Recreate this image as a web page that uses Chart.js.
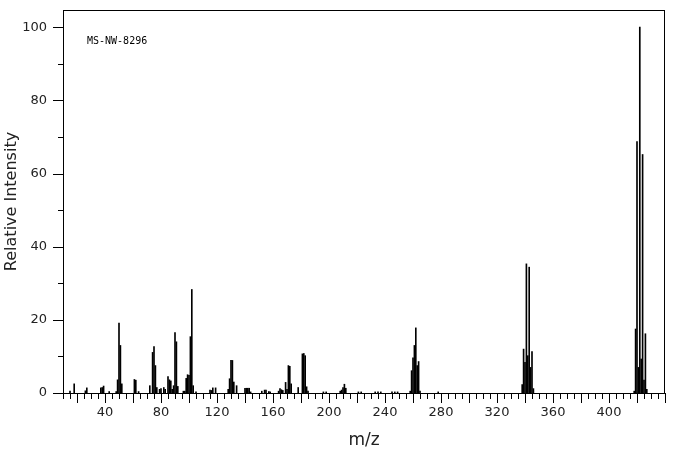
<!DOCTYPE html>
<html>
<head>
<meta charset="utf-8">
<script src="https://cdn.jsdelivr.net/npm/chart.js@4/dist/chart.umd.min.js"></script>
<style>
  html, body { margin: 0; padding: 0; background: #fff; }
  #wrap { width: 676px; height: 455px; }
</style>
</head>
<body>
<div id="wrap"><canvas id="msChart" width="676" height="455"></canvas></div>
<script>
// m/z values and relative intensities
const mzValues = [
    15, 18, 26, 27, 37, 38, 39, 43, 48, 49, 50, 51, 52, 61, 62, 64,
    72, 74, 75, 76, 77, 79, 80, 82, 83, 85, 86, 87, 88, 89, 90, 91, 92,
    96, 97, 98, 99, 100, 101, 102, 103, 105, 115, 116, 117, 119,
    128, 129, 130, 131, 132, 134, 140, 141, 142, 143, 144,
    152, 154, 155, 157, 158, 164, 165, 166, 167, 169, 170, 171, 172, 173,
    178, 181, 182, 183, 184, 185, 196, 198, 208, 209, 210, 211, 212,
    221, 223, 233, 235, 237, 245, 247, 249,
    258, 259, 260, 261, 262, 263, 264, 265, 278,
    338, 339, 340, 341, 342, 343, 344, 345, 346,
    418, 419, 420, 421, 422, 423, 424, 425, 426, 427
];
const intensities = [
    0.5, 2.5, 0.6, 1.4, 1.4, 1.5, 1.9, 0.4, 0.4, 3.6, 19.1, 13.0, 2.5, 3.7, 3.5, 0.4,
    2.0, 11.1, 12.7, 7.5, 1.5, 1.0, 1.2, 1.5, 1.0, 4.5, 3.6, 3.3, 1.0, 2.0, 16.5, 14.0, 1.8,
    0.5, 0.5, 4.0, 5.0, 4.8, 15.4, 28.3, 2.0, 0.3, 0.8, 0.7, 1.4, 1.4,
    1.0, 3.9, 8.9, 8.9, 3.0, 2.0, 1.3, 1.3, 1.3, 1.3, 0.3,
    0.5, 0.8, 0.8, 0.4, 0.3, 0.5, 1.2, 0.9, 0.7, 2.9, 1.0, 7.5, 7.3, 2.5,
    1.5, 10.7, 10.8, 10.2, 1.7, 0.5, 0.3, 0.3, 0.5, 0.8, 1.5, 2.4, 1.3,
    0.3, 0.3, 0.3, 0.3, 0.3, 0.3, 0.3, 0.3,
    0.5, 6.1, 9.6, 13.0, 17.8, 7.5, 8.6, 0.5, 0.3,
    2.3, 12.0, 8.4, 35.3, 10.2, 34.4, 7.0, 11.3, 1.2,
    0.5, 17.5, 68.7, 7.0, 100, 9.3, 65.2, 3.5, 16.2, 1.0
];
const xTickLabels = [40, 80, 120, 160, 200, 240, 280, 320, 360, 400];
const yTickLabels = [0, 20, 40, 60, 80, 100];
const sampleId = "MS-NW-8296";

const fontFamily = "'DejaVu Sans', sans-serif";

// frame, tick marks and sample id drawn on top of the plot
const frameAndTicks = {
    id: "frameAndTicks",
    afterDraw(chart) {
        const ctx = chart.ctx;
        const area = chart.chartArea;
        const x = chart.scales.x;
        const y = chart.scales.y;
        ctx.save();
        ctx.strokeStyle = "#000";
        ctx.lineWidth = 1;
        ctx.strokeRect(Math.round(area.left) + 0.5, Math.round(area.top) + 0.5,
            Math.round(area.right - area.left) - 1, Math.round(area.bottom - area.top));

        ctx.beginPath();
        for (let v = 10; v <= 440; v += 5) {
            const px = Math.round(x.getPixelForValue(v)) + 0.5;
            const len = v % 20 === 0 ? 10 : 6;
            ctx.moveTo(px, area.bottom);
            ctx.lineTo(px, area.bottom + len);
        }
        for (let v = 0; v <= 100; v += 10) {
            const py = Math.round(y.getPixelForValue(v)) + 0.5;
            const len = v % 20 === 0 ? 10 : 5;
            ctx.moveTo(area.left, py);
            ctx.lineTo(area.left - len, py);
        }
        ctx.stroke();

        ctx.fillStyle = "#000";
        ctx.font = "10px 'DejaVu Sans Mono', monospace";
        ctx.textBaseline = "middle";
        ctx.fillText(sampleId, area.left + 24, area.top + 31);
        ctx.restore();
    }
};

new Chart(document.getElementById("msChart"), {
    type: "bar",
    data: {
        datasets: [{
            data: mzValues.map((m, i) => ({ x: m, y: intensities[i] })),
            backgroundColor: "#000",
            borderWidth: 0,
            barThickness: 1,
            grouped: false
        }]
    },
    options: {
        responsive: false,
        animation: false,
        layout: { padding: { top: 10, right: 11, left: 0, bottom: 0 } },
        plugins: {
            legend: { display: false },
            tooltip: { enabled: false }
        },
        scales: {
            x: {
                type: "linear",
                min: 10,
                max: 440,
                offset: false,
                grid: { display: false, drawTicks: false },
                border: { display: false },
                afterFit: s => { s.height = 62; s.paddingLeft = 0; s.paddingRight = 0; },
                afterBuildTicks: s => { s.ticks = xTickLabels.map(v => ({ value: v })); },
                ticks: {
                    autoSkip: false,
                    maxRotation: 0,
                    padding: 12,
                    color: "#222",
                    font: { family: fontFamily, size: 13 }
                },
                title: {
                    display: true,
                    text: "m/z",
                    color: "#222",
                    padding: { top: 4, bottom: 4 },
                    font: { family: fontFamily, size: 17 }
                }
            },
            y: {
                min: 0,
                max: 104.7,
                grid: { display: false, drawTicks: false },
                border: { display: false },
                afterFit: s => { s.width = 63; s.paddingTop = 0; s.paddingBottom = 0; },
                afterBuildTicks: s => { s.ticks = yTickLabels.map(v => ({ value: v })); },
                ticks: {
                    padding: 16,
                    color: "#222",
                    font: { family: fontFamily, size: 13 }
                },
                title: {
                    display: true,
                    text: "Relative Intensity",
                    color: "#222",
                    padding: { top: 2, bottom: 2 },
                    font: { family: fontFamily, size: 16 }
                }
            }
        }
    },
    plugins: [frameAndTicks]
});
</script>
</body>
</html>
